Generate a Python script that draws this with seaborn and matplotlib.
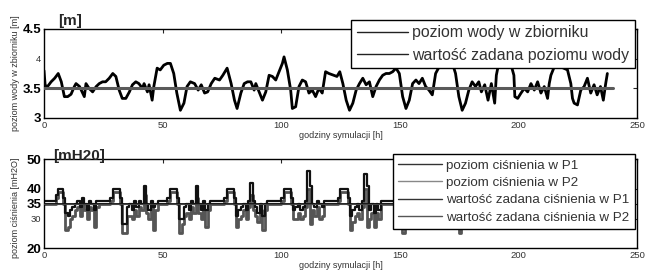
import numpy as np
import pandas as pd
import seaborn as sns
import matplotlib.pyplot as plt

# water level in the tank [m] (hour, value)
hours_level = [0, 0.5, 1.5, 3, 4.5, 6, 7.3, 8.6, 10, 11.4, 12.8, 13.5, 15, 17, 17.7, 19, 20.5, 22, 23.3, 24.7,
               26, 27.5, 29, 30.3, 31.7, 33, 34.5, 36, 37.3, 38.7, 40, 41.5, 42.2, 43.6, 44.3, 45.6, 46.3, 47.7, 49, 50.5,
               52, 53.3, 54.7, 56, 57.5, 59, 60.3, 61.7, 63.5, 65, 66.3, 67.7, 69, 70.5, 72, 74, 75.4, 77.2, 78.9, 80.3,
               81.4, 83, 84.4, 85.8, 87.2, 88.6, 89.3, 90.7, 92.1, 93.5, 94.9, 96.3, 97.7, 99.1, 100.5, 101.2, 102.6, 104, 104.7, 106.1,
               107.5, 108.9, 110.3, 111.7, 113.1, 114.5, 115.9, 117.3, 118.7, 120.1, 122.1, 123.5, 124.7, 126, 127.4, 128.8, 130.2, 131.6, 133, 134.4,
               135.8, 137.2, 138.6, 140, 141.4, 142.8, 144.2, 145.6, 147, 148.4, 149.8, 151.2, 152.6, 154, 155.4, 156.8, 158.1, 159.5, 160.9, 162.3,
               163.7, 165.1, 166.3, 167.5, 170, 172.5, 173.5, 174.9, 176.3, 177.7, 179.1, 180.5, 181.9, 183.3, 184.4, 185.8, 187.2, 188.6, 190, 190.7,
               191.5, 194, 197, 198.1, 198.5, 199.7, 201.1, 202.5, 203.9, 205.3, 206.7, 208.1, 209.5, 210.9, 212.3, 213, 213.7, 215, 218, 220.7,
               222.1, 222.8, 223.5, 224.9, 226.3, 227.7, 229.1, 230.5, 231.9, 233.2, 234.6, 235.8, 236.8, 237.5]
level = [3.80, 3.55, 3.53, 3.61, 3.67, 3.75, 3.61, 3.36, 3.36, 3.40, 3.53, 3.58, 3.53, 3.36, 3.58, 3.50, 3.44, 3.53, 3.58, 3.61,
         3.61, 3.67, 3.75, 3.70, 3.47, 3.33, 3.33, 3.44, 3.56, 3.61, 3.58, 3.50, 3.58, 3.44, 3.56, 3.30, 3.53, 3.84, 3.81, 3.89,
         3.92, 3.92, 3.75, 3.42, 3.13, 3.25, 3.53, 3.61, 3.58, 3.47, 3.56, 3.42, 3.44, 3.58, 3.67, 3.64, 3.72, 3.84, 3.58, 3.30,
         3.16, 3.42, 3.58, 3.61, 3.61, 3.47, 3.58, 3.44, 3.30, 3.44, 3.72, 3.70, 3.64, 3.78, 3.92, 4.03, 3.81, 3.47, 3.16, 3.19,
         3.53, 3.64, 3.61, 3.42, 3.47, 3.36, 3.50, 3.42, 3.78, 3.75, 3.72, 3.70, 3.78, 3.58, 3.30, 3.13, 3.25, 3.47, 3.58, 3.67,
         3.56, 3.61, 3.36, 3.53, 3.64, 3.72, 3.75, 3.75, 3.78, 3.84, 3.75, 3.36, 3.16, 3.30, 3.58, 3.64, 3.58, 3.67, 3.53, 3.47,
         3.39, 3.75, 3.84, 3.90, 3.92, 3.88, 3.75, 3.36, 3.13, 3.25, 3.47, 3.61, 3.53, 3.61, 3.44, 3.56, 3.30, 3.58, 3.25, 3.72,
         3.88, 3.90, 3.88, 3.72, 3.36, 3.33, 3.42, 3.50, 3.44, 3.58, 3.47, 3.61, 3.42, 3.53, 3.33, 3.58, 3.72, 3.85, 3.86, 3.81,
         3.58, 3.33, 3.25, 3.22, 3.47, 3.53, 3.67, 3.42, 3.56, 3.39, 3.53, 3.30, 3.58, 3.75]
level_setpoint = 3.5

# pressure in P1 / P2 [mH2O], one value per hour 0..240
p1 = [36, 36, 36, 36, 36, 38, 40, 40, 37, 32, 31, 33, 34, 35, 36, 34, 37, 35, 33, 36, 35, 33, 36, 36,
      36, 36, 36, 36, 37, 40, 40, 40, 37, 28, 28, 34, 35, 33, 36, 34, 36, 35, 41, 35, 33, 36, 34, 35,
      36, 36, 36, 36, 37, 40, 40, 40, 37, 30, 30, 34, 35, 33, 36, 35, 41, 35, 33, 36, 33, 35, 36, 36,
      36, 36, 36, 36, 37, 40, 40, 40, 37, 31, 33, 34, 35, 33, 36, 42, 36, 34, 32, 35, 31, 35, 36, 36,
      36, 36, 36, 36, 37, 40, 40, 40, 37, 33, 34, 35, 33, 34, 36, 46, 41, 35, 34, 36, 35, 34, 36, 36,
      36, 36, 36, 36, 37, 40, 40, 40, 37, 31, 33, 34, 35, 33, 36, 45, 41, 33, 35, 32, 35, 33, 36, 36,
      36, 36, 36, 36, 37, 40, 40, 31, 33, 34, 35, 33, 36, 42, 36, 34, 32, 35, 31, 35, 36, 36, 36, 36,
      36, 36, 36, 36, 37, 40, 40, 33, 34, 35, 33, 34, 36, 44, 41, 35, 34, 36, 35, 34, 36, 36, 36, 36,
      36, 36, 36, 36, 37, 40, 40, 40, 37, 31, 33, 34, 35, 33, 36, 45, 41, 33, 35, 32, 35, 33, 36, 36,
      36, 36, 36, 36, 37, 40, 40, 40, 37, 29, 29, 34, 35, 33, 36, 34, 36, 35, 41, 35, 33, 36, 34, 35, 36]
p2 = [35, 35, 35, 35, 35, 37, 39, 39, 35, 26, 27, 30, 31, 33, 34, 31, 35, 33, 30, 34, 33, 27, 34, 35,
      35, 35, 35, 35, 36, 39, 39, 39, 35, 25, 25, 31, 31, 30, 33, 31, 34, 33, 38, 32, 30, 34, 26, 33,
      35, 35, 35, 35, 36, 39, 39, 39, 35, 25, 28, 31, 32, 30, 34, 32, 37, 32, 30, 33, 27, 33, 35, 35,
      35, 35, 35, 35, 36, 39, 39, 39, 35, 27, 30, 31, 33, 30, 34, 38, 33, 31, 29, 33, 26, 33, 35, 35,
      35, 35, 35, 35, 36, 39, 39, 39, 35, 30, 30, 32, 30, 31, 34, 40, 28, 33, 31, 34, 30, 31, 35, 35,
      35, 35, 35, 35, 36, 39, 39, 39, 35, 26, 29, 31, 32, 30, 34, 40, 27, 30, 32, 27, 32, 30, 35, 35,
      35, 35, 35, 35, 36, 39, 39, 25, 30, 31, 32, 30, 34, 37, 33, 31, 29, 33, 27, 33, 35, 35, 35, 35,
      35, 35, 35, 35, 36, 39, 39, 25, 30, 32, 30, 31, 34, 40, 28, 33, 31, 34, 30, 31, 35, 35, 35, 35,
      35, 35, 35, 35, 36, 39, 39, 39, 35, 27, 30, 31, 32, 30, 34, 40, 27, 30, 32, 27, 32, 30, 35, 35,
      35, 35, 35, 35, 36, 39, 39, 39, 35, 27, 28, 31, 31, 30, 33, 31, 34, 33, 38, 32, 30, 34, 28, 33, 35]
pressure_setpoint = 35
sim_end = 240

sns.set_style('white')
plt.rcParams['font.family'] = ['Liberation Sans', 'DejaVu Sans']

fig = plt.figure(figsize=(6.45, 2.73), dpi=100)
ax1 = fig.add_axes([0.0682, 0.5678, 0.9194, 0.326])
ax2 = fig.add_axes([0.0682, 0.0905, 0.9194, 0.327])

# top: water level
df_level = pd.DataFrame({'h': hours_level, 'level': level})
sns.lineplot(data=df_level, x='h', y='level', ax=ax1, color='black', lw=2,
             label='poziom wody w zbiorniku', zorder=2)
sns.lineplot(x=[0, sim_end], y=[level_setpoint, level_setpoint], ax=ax1, color='#5a5a5a', lw=2.2,
             label='wartość zadana poziomu wody', zorder=3)

# bottom: pressures
hours = np.arange(len(p1))
df_p = pd.DataFrame({'h': hours, 'p1': p1, 'p2': p2})
sns.lineplot(data=df_p, x='h', y='p2', ax=ax2, color='#555555', lw=2, drawstyle='steps-post',
             label='poziom ciśnienia w P2', zorder=2)
sns.lineplot(data=df_p, x='h', y='p1', ax=ax2, color='#111111', lw=1.6, drawstyle='steps-post',
             label='poziom ciśnienia w P1', zorder=2.5)
sns.lineplot(x=[0, sim_end], y=[pressure_setpoint, pressure_setpoint], ax=ax2, color='#111111', lw=1.3,
             label='wartość zadana ciśnienia w P1', zorder=3)
sns.lineplot(x=[0, sim_end], y=[pressure_setpoint, pressure_setpoint], ax=ax2, color='#444444', lw=0.8,
             label='wartość zadana ciśnienia w P2', zorder=3)

for ax in (ax1, ax2):
    ax.set_xlim(0, 250)
    ax.set_xticks(np.arange(0, 251, 50))
    ax.tick_params(direction='in', length=3, width=0.8, top=True, right=True,
                   labelsize=6.8, labelcolor='#333333', pad=2)
    for s in ax.spines.values():
        s.set_color('black')
        s.set_linewidth(1)
    ax.set_xlabel('godziny symulacji [h]', fontsize=6.5, color='#333333', labelpad=1)

ax1.set_ylim(3, 4.5)
ax1.set_yticks([3, 3.5, 4, 4.5])
ax1.set_yticklabels(['3', '3.5', '4', '4.5'])
ax2.set_ylim(20, 50)
ax2.set_yticks([20, 30, 35, 40, 50])
ax2.set_yticklabels(['20', '30', '35', '40', '50'])

big = {'3', '3.5', '4.5', '20', '35', '40', '50'}
for ax in (ax1, ax2):
    for lbl in ax.get_yticklabels():
        if lbl.get_text() in big:
            lbl.set_fontsize(9.5)
            lbl.set_fontweight('bold')
            lbl.set_color('black')

ax1.set_ylabel('poziom wody w zbiorniku [m]', fontsize=6.5, color='#333333')
ax1.yaxis.set_label_coords(-0.040, 0.5)
ax2.set_ylabel('poziom ciśnienia [mH2O]', fontsize=6.5, color='#333333')
ax2.yaxis.set_label_coords(-0.040, 0.45)

fig.text(58 / 645, 1 - 28 / 273, '[m]', fontsize=11, fontweight='bold', va='bottom')
fig.text(53 / 645, 1 - 163 / 273, '[mH20]', fontsize=11, fontweight='bold', va='bottom')

# legends
leg1 = ax1.legend(loc='upper right', bbox_to_anchor=(0.9845, 0.927), bbox_transform=fig.transFigure,
                  fontsize=11.4, fancybox=False, edgecolor='black', framealpha=1, handlelength=3.2,
                  borderaxespad=0, borderpad=0.35, labelspacing=0.45, handletextpad=0.3)
leg1.get_frame().set_linewidth(1)
for line in leg1.get_lines():
    line.set_linewidth(1)
    line.set_color('#222222')
for t in leg1.get_texts():
    t.set_color('#333333')

h, l = ax2.get_legend_handles_labels()
order = [1, 0, 2, 3]
leg2 = ax2.legend([h[i] for i in order], [l[i] for i in order], loc='upper right',
                  bbox_to_anchor=(0.9845, 0.436), bbox_transform=fig.transFigure,
                  fontsize=9.6, fancybox=False, edgecolor='black', framealpha=1, handlelength=3.3,
                  borderaxespad=0, borderpad=0.4, labelspacing=0.38, handletextpad=0.3)
leg2.get_frame().set_linewidth(1)
for line, c in zip(leg2.get_lines(), ['#333333', '#888888', '#333333', '#555555']):
    line.set_linewidth(1)
    line.set_color(c)
for t in leg2.get_texts():
    t.set_color('#333333')

fig.savefig('out.png', dpi=100)
